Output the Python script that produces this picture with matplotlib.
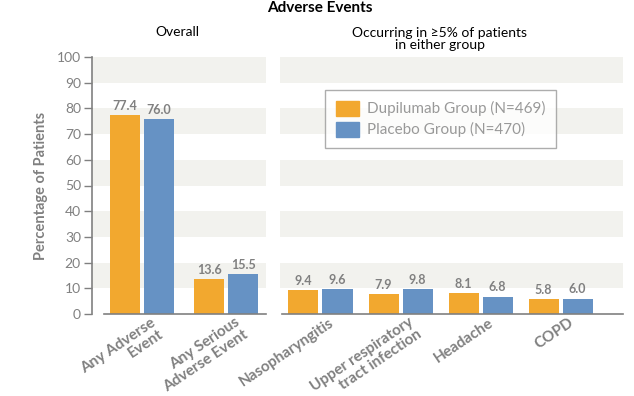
import numpy as np
import matplotlib
matplotlib.use("Agg")
import matplotlib.pyplot as plt
from matplotlib.patches import Patch
from matplotlib.transforms import ScaledTranslation

plt.rcParams["font.family"] = ["Lato", "DejaVu Sans"]

overall_labels = ["Any Adverse\nEvent", "Any Serious\nAdverse Event"]
overall_dupi = [77.4, 13.6]
overall_plac = [76.0, 15.5]

common_labels = ["Nasopharyngitis", "Upper respiratory\ntract infection", "Headache", "COPD"]
common_dupi = [9.4, 7.9, 8.1, 5.8]
common_plac = [9.6, 9.8, 6.8, 6.0]

legend_labels = ["Dupilumab Group (N=469)", "Placebo Group (N=470)"]

ORANGE = "#F2A82F"
BLUE = "#6692C4"
BAND = "#F2F2EE"
GRAY = "#808080"

fig = plt.figure(figsize=(6.34, 3.96), dpi=100)
ax1 = fig.add_axes([92 / 634, 82 / 396, 174 / 634, 257 / 396])
ax2 = fig.add_axes([280 / 634, 82 / 396, 343 / 634, 257 / 396])


def style(ax, left_spine):
    ax.set_ylim(0, 100)
    for y0 in range(10, 100, 20):
        ax.axhspan(y0, y0 + 10, color=BAND, zorder=0, lw=0)
    for s in ["top", "right"]:
        ax.spines[s].set_visible(False)
    ax.spines["bottom"].set_color(GRAY)
    ax.spines["bottom"].set_linewidth(1.2)
    ax.tick_params(axis="x", length=0, pad=1)
    if left_spine:
        ax.spines["left"].set_color(GRAY)
        ax.spines["left"].set_linewidth(1.2)
        ax.set_yticks(np.arange(0, 101, 10))
        ax.tick_params(axis="y", colors=GRAY, labelsize=10, length=6, width=1, pad=2)
    else:
        ax.spines["left"].set_visible(False)
        ax.set_yticks([])


def draw(ax, labels, dupi, plac, width, off):
    x = np.arange(len(labels))
    b1 = ax.bar(x - off, dupi, width, color=ORANGE, zorder=2)
    b2 = ax.bar(x + off, plac, width, color=BLUE, zorder=2)
    for bars, vals in [(b1, dupi), (b2, plac)]:
        for b, v in zip(bars, vals):
            ax.text(b.get_x() + b.get_width() / 2, v + 1.2, f"{v:.1f}", ha="center", va="bottom",
                    fontsize=9, fontweight="bold", color=GRAY)
    ax.set_xticks(x)
    ax.set_xticklabels(labels, rotation=34, ha="right", va="top", rotation_mode="anchor",
                       multialignment="right", fontsize=11, fontweight="bold", color=GRAY,
                       linespacing=1.05)
    shift = ScaledTranslation(8 / 100, 0, fig.dpi_scale_trans)
    for lab in ax.get_xticklabels():
        lab.set_transform(lab.get_transform() + shift)
    return b1, b2


style(ax1, True)
style(ax2, False)
draw(ax1, overall_labels, overall_dupi, overall_plac, 0.355, 0.2)
ax1.set_xlim(-0.59, 1.47)
ax1.spines["bottom"].set_bounds(-0.45, 1.47)
b1, b2 = draw(ax2, common_labels, common_dupi, common_plac, 0.375, 0.2125)
ax2.set_xlim(-0.506, 3.78)
ax2.spines["bottom"].set_bounds(-0.48, 3.78)

ax1.set_ylabel("Percentage of Patients", fontsize=10.5, fontweight="bold", color=GRAY, labelpad=6)

leg = ax2.legend([Patch(color=ORANGE), Patch(color=BLUE)], legend_labels,
                 loc="upper left", bbox_to_anchor=(0.131, 0.872), borderaxespad=0,
                 fontsize=11, handlelength=1.55, handleheight=1.15, frameon=True,
                 fancybox=False, borderpad=0.7, labelspacing=0.35, handletextpad=0.5)
leg.get_frame().set_edgecolor("#999999")
leg.get_frame().set_linewidth(1.0)
for t in leg.get_texts():
    t.set_color("#999999")

fig.text(320 / 634, 1 - 8 / 396, "Adverse Events", ha="center", va="center",
         fontsize=11, fontweight="bold", color="black")
fig.text(177 / 634, 1 - 32 / 396, "Overall", ha="center", va="center", fontsize=10)
fig.text(440 / 634, 1 - 39 / 396, "Occurring in \u22655% of patients\nin either group",
         ha="center", va="center", fontsize=10, linespacing=0.95)

fig.savefig("out.png", dpi=100)
